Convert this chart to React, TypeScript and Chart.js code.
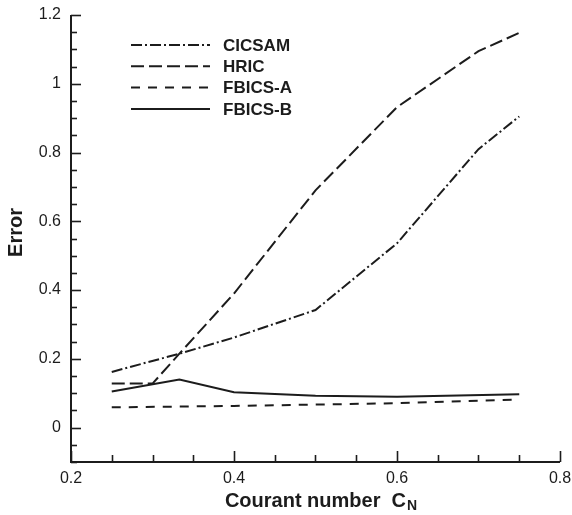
import React, { useEffect, useRef } from "react";
import { Chart, registerables } from "chart.js";

Chart.register(...registerables);

const seriesNames = ["CICSAM", "HRIC", "FBICS-A", "FBICS-B"];
const cicsamX = [0.25, 0.333, 0.4, 0.5, 0.6, 0.7, 0.75];
const cicsamY = [0.162, 0.215, 0.262, 0.342, 0.536, 0.81, 0.905];
const hricX = [0.25, 0.3, 0.333, 0.4, 0.5, 0.6, 0.7, 0.75];
const hricY = [0.128, 0.128, 0.215, 0.39, 0.69, 0.932, 1.095, 1.148];
const fbicsAX = [0.25, 0.4, 0.5, 0.6, 0.75];
const fbicsAY = [0.059, 0.063, 0.067, 0.071, 0.082];
const fbicsBX = [0.25, 0.333, 0.4, 0.5, 0.6, 0.75];
const fbicsBY = [0.105, 0.14, 0.103, 0.093, 0.09, 0.097];
const xTicks = [0.2, 0.4, 0.6, 0.8];
const yTicks = [0, 0.2, 0.4, 0.6, 0.8, 1, 1.2];
const xMinorStep = 0.05;
const yMinorStep = 0.05;
const xTitle = "Courant number  C";
const xTitleSub = "N";
const yTitle = "Error";

const INK = "#1c1c1c";
const FONT = "'Liberation Sans', Arial, Helvetica, sans-serif";
const dashes = [[11, 3, 2, 3], [13, 5], [9, 8], []];

export default function App() {
  const ref = useRef<HTMLCanvasElement>(null);

  useEffect(() => {
    document.body.style.margin = "0";
    const xsAll = [cicsamX, hricX, fbicsAX, fbicsBX];
    const ysAll = [cicsamY, hricY, fbicsAY, fbicsBY];
    const datasets = seriesNames.map((name, i) => ({
      label: name,
      data: xsAll[i].map((x, j) => ({ x, y: ysAll[i][j] })),
      borderColor: INK,
      backgroundColor: INK,
      borderWidth: 2,
      borderDash: dashes[i],
      pointRadius: 0,
      fill: false,
      tension: 0,
    }));

    const decor = {
      id: "decor",
      afterDraw(chart: any) {
        const ctx = chart.ctx as CanvasRenderingContext2D;
        const sx = chart.scales.x;
        const sy = chart.scales.y;
        const { left, right, top, bottom } = chart.chartArea;
        ctx.save();
        ctx.strokeStyle = INK;
        ctx.fillStyle = INK;
        ctx.setLineDash([]);
        ctx.lineWidth = 2;
        ctx.beginPath();
        ctx.moveTo(left, top);
        ctx.lineTo(left, bottom);
        ctx.lineTo(right, bottom);
        ctx.stroke();

        ctx.lineWidth = 1.6;
        const isMajor = (v: number, list: number[]) =>
          list.some((t) => Math.abs(t - v) < 1e-6);
        const nx = Math.round((sx.max - sx.min) / xMinorStep);
        for (let k = 0; k <= nx; k++) {
          const v = sx.min + k * xMinorStep;
          const px = Math.round(sx.getPixelForValue(v)) + 0.5;
          const len = isMajor(v, xTicks) ? 11 : 7;
          ctx.beginPath();
          ctx.moveTo(px, bottom);
          ctx.lineTo(px, bottom - len);
          ctx.stroke();
        }
        const ny = Math.round((sy.max - sy.min) / yMinorStep);
        for (let k = 0; k <= ny; k++) {
          const v = sy.min + k * yMinorStep;
          const py = Math.round(sy.getPixelForValue(v)) + 0.5;
          const len = isMajor(v, yTicks) ? 10 : 6;
          ctx.beginPath();
          ctx.moveTo(left, py);
          ctx.lineTo(left + len, py);
          ctx.stroke();
        }

        // legend
        ctx.lineWidth = 2;
        ctx.font = `bold 17px ${FONT}`;
        ctx.textBaseline = "middle";
        ctx.textAlign = "left";
        seriesNames.forEach((name, i) => {
          const y = top + 30 + i * 21.3;
          ctx.setLineDash(dashes[i]);
          ctx.beginPath();
          ctx.moveTo(left + 60, y);
          ctx.lineTo(left + 139, y);
          ctx.stroke();
          ctx.setLineDash([]);
          ctx.fillText(name, left + 152, y + 1);
        });

        // x title
        ctx.font = `bold 20px ${FONT}`;
        ctx.textBaseline = "alphabetic";
        const wMain = ctx.measureText(xTitle).width;
        ctx.font = `bold 14px ${FONT}`;
        const wSub = ctx.measureText(xTitleSub).width;
        const cx = (left + right) / 2 + 5;
        const x0 = cx - (wMain + wSub) / 2;
        ctx.font = `bold 20px ${FONT}`;
        ctx.fillText(xTitle, x0, 507);
        ctx.font = `bold 14px ${FONT}`;
        ctx.fillText(xTitleSub, x0 + wMain + 1, 510);

        // y title
        ctx.save();
        ctx.font = `bold 20px ${FONT}`;
        ctx.translate(22, (top + bottom) / 2 - 6);
        ctx.rotate(-Math.PI / 2);
        ctx.textAlign = "center";
        ctx.textBaseline = "alphabetic";
        ctx.fillText(yTitle, 0, 0);
        ctx.restore();
        ctx.restore();
      },
    };

    const chart = new Chart(ref.current as HTMLCanvasElement, {
      type: "line",
      data: { datasets: datasets as any },
      options: {
        animation: false,
        responsive: false,
        events: [],
        layout: { padding: { top: 15, right: 12, left: 0, bottom: 0 } },
        plugins: { legend: { display: false }, tooltip: { enabled: false } },
        scales: {
          x: {
            type: "linear",
            min: 0.2,
            max: 0.8,
            afterBuildTicks: (s: any) => {
              s.ticks = xTicks.map((v) => ({ value: v }));
            },
            afterFit: (s: any) => {
              s.height = 53;
              s.paddingLeft = 0;
              s.paddingRight = 0;
              s.paddingTop = 0;
              s.paddingBottom = 0;
            },
            grid: { display: false, drawTicks: false },
            border: { display: false },
            ticks: {
              color: INK,
              font: { family: FONT, size: 16 },
              padding: 7,
              maxRotation: 0,
              autoSkip: false,
              callback: (v: any) => String(v),
            },
          },
          y: {
            type: "linear",
            min: -0.1,
            max: 1.2,
            afterBuildTicks: (s: any) => {
              s.ticks = yTicks.map((v) => ({ value: v }));
            },
            afterFit: (s: any) => {
              s.width = 71;
              s.paddingLeft = 0;
              s.paddingRight = 0;
              s.paddingTop = 0;
              s.paddingBottom = 0;
            },
            grid: { display: false, drawTicks: false },
            border: { display: false },
            ticks: {
              color: INK,
              font: { family: FONT, size: 16 },
              padding: 10,
              autoSkip: false,
              callback: (v: any) => String(v),
            },
          },
        },
      },
      plugins: [decor],
    });
    return () => chart.destroy();
  }, []);

  return (
    <div style={{ width: 572, height: 515 }}>
      <canvas ref={ref} width={572} height={515} style={{ display: "block" }} />
    </div>
  );
}
